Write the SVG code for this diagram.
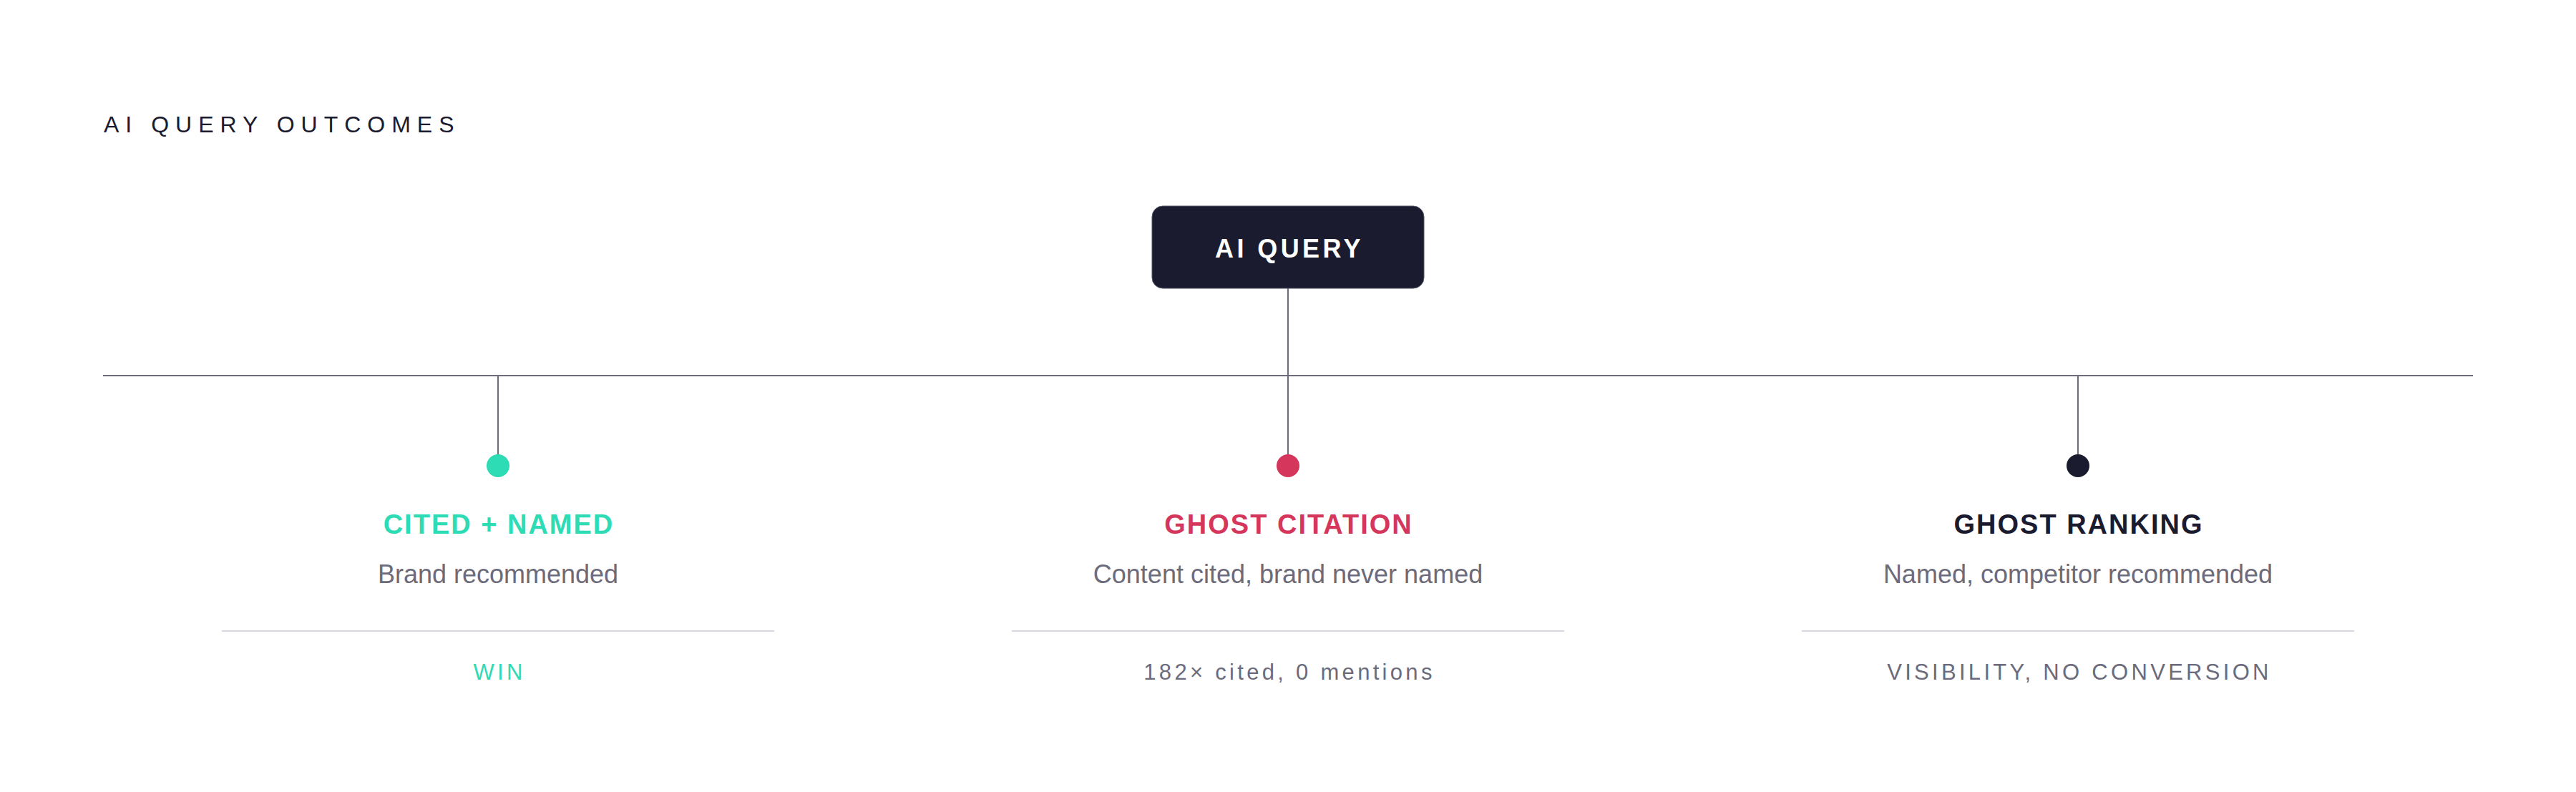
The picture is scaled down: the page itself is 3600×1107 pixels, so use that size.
<svg xmlns="http://www.w3.org/2000/svg" width="3600" height="1107" viewBox="0 0 3600 1107">
  <style>
    text { font-family: "Liberation Sans", Arial, sans-serif; }
    .hdr { font-size: 32px; letter-spacing: 9px; fill: #1b1b2f; }
    .qtext { font-size: 36px; font-weight: bold; letter-spacing: 4.4px; fill: #ffffff; text-anchor: middle; }
    .ttl { font-size: 38px; font-weight: bold; letter-spacing: 2px; text-anchor: middle; }
    .sub { font-size: 36px; fill: #6b6b7b; text-anchor: middle; }
    .foot { font-size: 31px; letter-spacing: 4.3px; text-anchor: middle; }
    .conn { stroke: #6e6c7b; stroke-width: 2; fill: none; }
    .sep { stroke: #d8d8e3; stroke-width: 2; }
  </style>
  <rect width="3600" height="1107" fill="#ffffff"/>
  <text class="hdr" x="145" y="185">AI QUERY OUTCOMES</text>

  <g id="connectors">
    <line class="conn" x1="144" y1="525" x2="3456" y2="525"/>
    <line class="conn" x1="1800" y1="403" x2="1800" y2="636"/>
    <line class="conn" x1="696" y1="525" x2="696" y2="636"/>
    <line class="conn" x1="2904" y1="525" x2="2904" y2="636"/>
  </g>

  <g id="ai-query">
    <rect x="1610" y="288" width="380" height="115" rx="15" fill="#1b1b2f" stroke="#55556a" stroke-width="1"/>
    <text class="qtext" x="1802" y="360">AI QUERY</text>
  </g>

  <g id="cited-named">
    <circle cx="696" cy="651" r="16" fill="#2ddbb5"/>
    <text class="ttl" x="697" y="746" fill="#2ddbb5">CITED + NAMED</text>
    <text class="sub" x="696" y="815">Brand recommended</text>
    <line class="sep" x1="310" y1="882" x2="1082" y2="882"/>
    <text class="foot" x="698" y="950" fill="#2ddbb5">WIN</text>
  </g>

  <g id="ghost-citation">
    <circle cx="1800" cy="651" r="16" fill="#d5365c"/>
    <text class="ttl" x="1801" y="746" fill="#d5365c">GHOST CITATION</text>
    <text class="sub" x="1800" y="815">Content cited, brand never named</text>
    <line class="sep" x1="1414" y1="882" x2="2186" y2="882"/>
    <text class="foot" x="1802" y="950" fill="#6b6b7b">182× cited, 0 mentions</text>
  </g>

  <g id="ghost-ranking">
    <circle cx="2904" cy="651" r="16" fill="#1b1b2f"/>
    <text class="ttl" x="2905" y="746" fill="#1b1b2f">GHOST RANKING</text>
    <text class="sub" x="2904" y="815">Named, competitor recommended</text>
    <line class="sep" x1="2518" y1="882" x2="3290" y2="882"/>
    <text class="foot" x="2906" y="950" fill="#6b6b7b">VISIBILITY, NO CONVERSION</text>
  </g>
</svg>
